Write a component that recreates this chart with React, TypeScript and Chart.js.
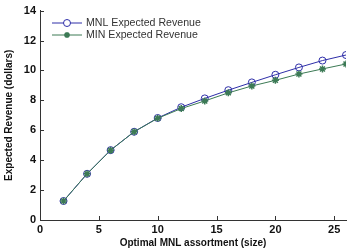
import React, { useEffect, useRef } from "react";
import { Chart, registerables } from "chart.js";

Chart.register(...registerables);

const sizes = [2, 4, 6, 8, 10, 12, 14, 16, 18, 20, 22, 24, 26];
const mnlRevenue = [1.27, 3.09, 4.67, 5.9, 6.82, 7.54, 8.13, 8.68, 9.2, 9.71, 10.2, 10.66, 11.03];
const minRevenue = [1.27, 3.09, 4.67, 5.9, 6.8, 7.45, 7.96, 8.5, 8.96, 9.34, 9.76, 10.1, 10.43];
const seriesLabels = ["MNL Expected Revenue", "MIN Expected Revenue"];
const xTicks = [0, 5, 10, 15, 20, 25];
const yTicks = [0, 2, 4, 6, 8, 10, 12, 14];

const BLUE = "#2e2ea8";
const GREEN = "#3c7a55";

const inwardTicks = {
  id: "inwardTicks",
  afterDraw(chart: any) {
    const ctx = chart.ctx;
    const xs = chart.scales.x;
    const ys = chart.scales.y;
    const a = chart.chartArea;
    ctx.save();
    ctx.strokeStyle = "#333";
    ctx.lineWidth = 1;
    ctx.beginPath();
    for (const t of xTicks) {
      const px = Math.round(xs.getPixelForValue(t)) + 0.5;
      ctx.moveTo(px, a.bottom);
      ctx.lineTo(px, a.bottom - 4);
    }
    for (const t of yTicks) {
      const py = Math.round(ys.getPixelForValue(t)) + 0.5;
      ctx.moveTo(a.left, py);
      ctx.lineTo(a.left + 4, py);
    }
    ctx.stroke();
    // legend
    const items = [
      { label: seriesLabels[0], color: BLUE, style: "circle", y: 23 },
      { label: seriesLabels[1], color: GREEN, style: "star", y: 35 },
    ];
    ctx.font = "10.6px 'Liberation Sans', Arial, sans-serif";
    ctx.textBaseline = "middle";
    for (const it of items) {
      ctx.strokeStyle = it.color;
      ctx.fillStyle = it.color;
      ctx.lineWidth = 1;
      ctx.beginPath();
      ctx.moveTo(52, it.y);
      ctx.lineTo(82, it.y);
      ctx.stroke();
      if (it.style === "circle") {
        ctx.beginPath();
        ctx.fillStyle = "#fff";
        ctx.arc(67, it.y, 3.5, 0, Math.PI * 2);
        ctx.fill();
        ctx.stroke();
      } else {
        ctx.beginPath();
        for (let k = 0; k < 4; k++) {
          const ang = (k * Math.PI) / 4;
          ctx.moveTo(67 - 3 * Math.cos(ang), it.y - 3 * Math.sin(ang));
          ctx.lineTo(67 + 3 * Math.cos(ang), it.y + 3 * Math.sin(ang));
        }
        ctx.lineWidth = 1.5;
        ctx.stroke();
      }
      ctx.fillStyle = "#333";
      ctx.fillText(it.label, 86, it.y + 0.5);
    }
    ctx.restore();
  },
};

export default function App() {
  const ref = useRef<HTMLCanvasElement>(null);
  useEffect(() => {
    const chart = new Chart(ref.current as HTMLCanvasElement, {
      type: "line",
      data: {
        datasets: [
          {
            label: seriesLabels[1],
            data: sizes.map((s, i) => ({ x: s, y: minRevenue[i] })),
            borderColor: GREEN,
            backgroundColor: GREEN,
            borderWidth: 1,
            pointStyle: "star",
            pointRadius: 3.5,
            pointBorderWidth: 1.5,
            pointBorderColor: GREEN,
          },
          {
            label: seriesLabels[0],
            data: sizes.map((s, i) => ({ x: s, y: mnlRevenue[i] })),
            borderColor: BLUE,
            backgroundColor: "rgba(0,0,0,0)",
            borderWidth: 1,
            pointStyle: "circle",
            pointRadius: 3.5,
            pointBorderWidth: 1,
            pointBorderColor: BLUE,
          },
        ],
      },
      options: {
        animation: false,
        responsive: false,
        layout: { padding: { left: 0, right: 8, top: 6, bottom: 0 } },
        plugins: { legend: { display: false }, tooltip: { enabled: false } },
        scales: {
          x: {
            type: "linear",
            min: 0,
            max: 26,
            afterBuildTicks: (s: any) => {
              s.ticks = xTicks.map((v) => ({ value: v }));
            },
            afterFit: (s: any) => {
              s.height = 32;
            },
            grid: { display: false, drawTicks: false, tickLength: 0 },
            border: { display: true, color: "#333", width: 1 },
            ticks: {
              color: "#111",
              padding: 3,
              maxRotation: 0,
              font: { family: "'Liberation Sans', Arial, sans-serif", size: 11, weight: "bold" },
            },
            title: {
              display: true,
              text: "Optimal MNL assortment (size)",
              color: "#111",
              padding: { top: 0, bottom: 3 },
              font: { family: "'Liberation Sans', Arial, sans-serif", size: 10, weight: "bold" },
            },
          },
          y: {
            type: "linear",
            min: 0,
            max: 14,
            afterBuildTicks: (s: any) => {
              s.ticks = yTicks.map((v) => ({ value: v }));
            },
            afterFit: (s: any) => {
              s.width = 40;
            },
            grid: { display: false, drawTicks: false, tickLength: 0 },
            border: { display: true, color: "#333", width: 1 },
            ticks: {
              color: "#111",
              padding: 4,
              font: { family: "'Liberation Sans', Arial, sans-serif", size: 11, weight: "bold" },
            },
            title: {
              display: true,
              text: "Expected Revenue (dollars)",
              color: "#111",
              padding: { top: 3, bottom: 0 },
              font: { family: "'Liberation Sans', Arial, sans-serif", size: 10, weight: "bold" },
            },
          },
        },
      },
      plugins: [inwardTicks],
    });
    return () => chart.destroy();
  }, []);
  return (
    <div style={{ position: "absolute", left: 0, top: 0, width: 354, height: 252, background: "#fff" }}>
      <canvas ref={ref} width={354} height={252} style={{ width: 354, height: 252, display: "block" }} />
    </div>
  );
}
